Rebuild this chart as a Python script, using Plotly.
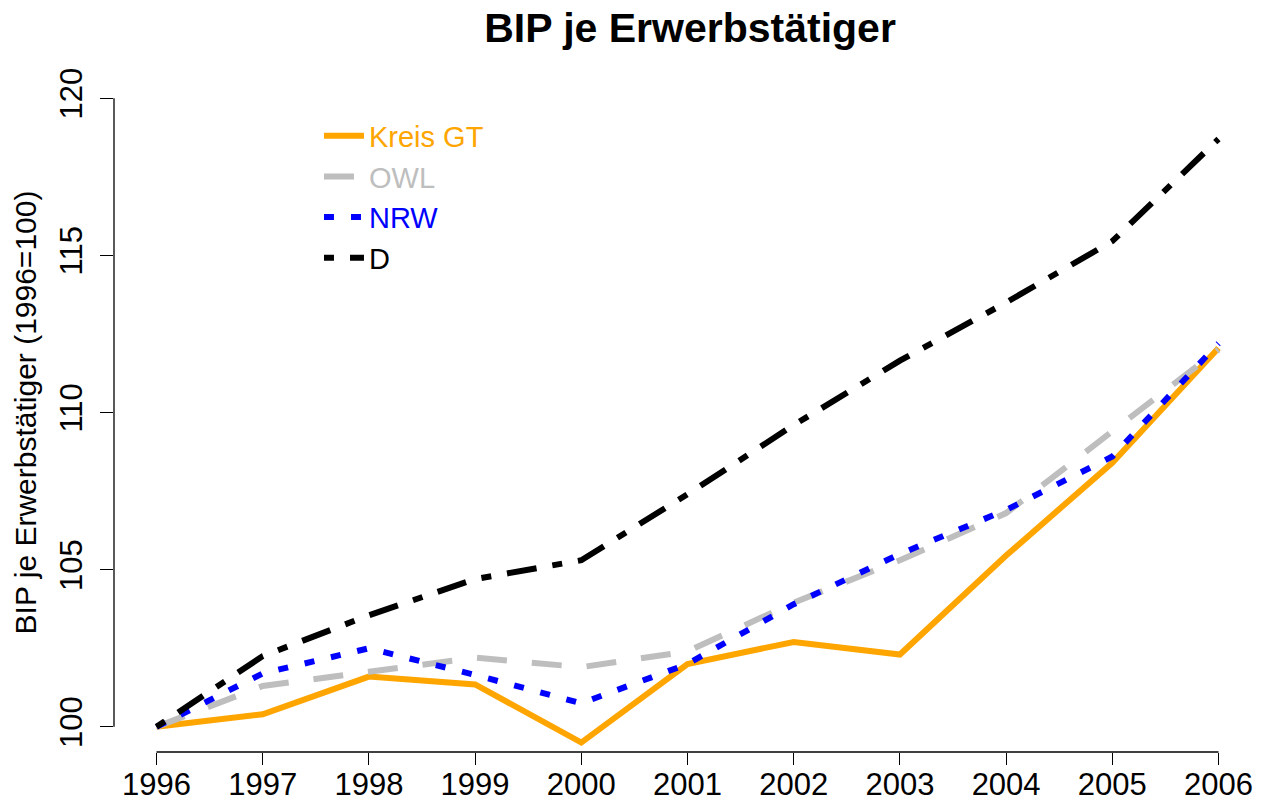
import plotly.graph_objects as go

years = [1996, 1997, 1998, 1999, 2000, 2001, 2002, 2003, 2004, 2005, 2006]
kreis_gt = [100.0, 100.4, 101.6, 101.35, 99.5, 102.0, 102.7, 102.3, 105.45, 108.4, 112.05]
owl = [100.0, 101.3, 101.75, 102.2, 101.9, 102.4, 103.95, 105.3, 106.8, 109.4, 112.0]
nrw = [100.0, 101.7, 102.5, 101.65, 100.75, 102.0, 103.9, 105.5, 106.9, 108.6, 112.2]
d = [100.0, 102.25, 103.55, 104.7, 105.3, 107.4, 109.6, 111.65, 113.5, 115.45, 118.7]

series_names = ["Kreis GT", "OWL", "NRW", "D"]
series_colors = ["#FFA500", "#BEBEBE", "#0000FF", "#000000"]
series_dash = ["solid", "30px,25px", "10px,17px", "10px,16px,30px,16px"]
series_values = [kreis_gt, owl, nrw, d]

y_ticks = [100, 105, 110, 115, 120]

FONT = "Liberation Sans, Arial, sans-serif"

fig = go.Figure()
for name, col, dash, vals in zip(series_names, series_colors, series_dash, series_values):
    fig.add_trace(go.Scatter(
        x=years, y=vals, mode="lines",
        name=f'<span style="color:{col}">{name}</span>',
        line=dict(color=col, width=6, dash=dash),
    ))

fig.update_layout(
    width=1271, height=807,
    paper_bgcolor="white", plot_bgcolor="white",
    margin=dict(l=113.5, r=9.5, t=73, b=55, autoexpand=False),
    font=dict(family=FONT, size=30, color="black"),
    title=dict(text="<b>BIP je Erwerbstätiger</b>", x=0.5429, xanchor="center",
               y=0.9656, yanchor="middle", font=dict(size=41, family=FONT)),
    showlegend=True,
    legend=dict(x=0.1787, y=0.945, xanchor="left", yanchor="top",
                bgcolor="rgba(0,0,0,0)", font=dict(size=29, family=FONT),
                itemwidth=40, tracegroupgap=0),
    xaxis=dict(range=[1995.6, 2006.4], tickvals=years, ticktext=[str(y) for y in years],
               showgrid=False, zeroline=False, showline=False, automargin=False,
               ticks="outside", ticklen=12, tickwidth=1.3, tickcolor="black",
               tickfont=dict(size=31), ticklabelstandoff=-7),
    yaxis=dict(range=[99.2, 120.8], tickvals=y_ticks, ticktext=[str(v) for v in y_ticks],
               showgrid=False, zeroline=False, showline=False, automargin=False,
               ticks="outside", ticklen=13, tickwidth=1.3, tickcolor="black",
               tickangle=-90, tickfont=dict(size=31), ticklabelstandoff=6,
               title=dict(text="BIP je Erwerbstätiger (1996=100)", font=dict(size=30), standoff=8)),
    shapes=[
        dict(type="line", xref="x", yref="paper", x0=years[0], x1=years[-1], y0=0, y1=0,
             line=dict(color="black", width=1.3)),
        dict(type="line", xref="paper", yref="y", x0=0, x1=0, y0=y_ticks[0], y1=y_ticks[-1],
             line=dict(color="black", width=1.3)),
    ],
)

fig.write_html(
    "out.html",
    config={"displayModeBar": False},
    post_script="document.body.style.margin='0';document.body.style.overflow='hidden';",
)
